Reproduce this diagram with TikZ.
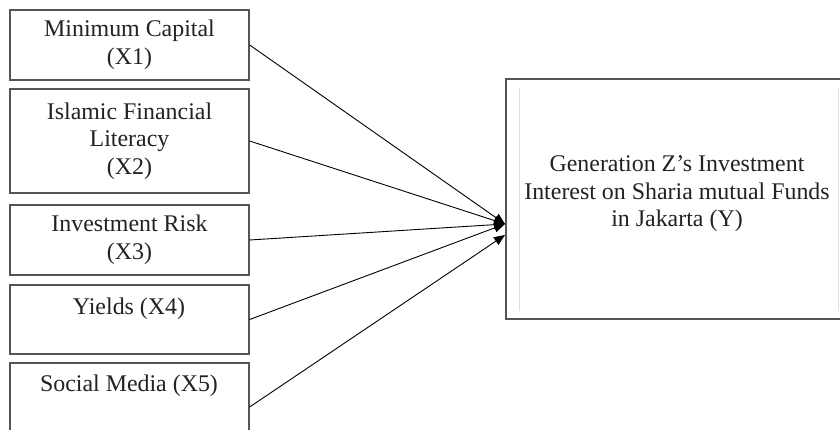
\documentclass[tikz,border=0pt]{standalone}
\usepackage{fontspec}
\setmainfont{Liberation Serif}
\usetikzlibrary{arrows.meta}
\definecolor{edge}{HTML}{555555}
\definecolor{ink}{HTML}{222222}
\definecolor{faint}{HTML}{DDDDDD}
\begin{document}
\begin{tikzpicture}[x=1pt,y=-1pt,
  txt/.style={text=ink, align=center, inner sep=0pt, font=\fontsize{23.9}{27.5}\selectfont},
  box/.style={txt, draw=edge, line width=1.3pt, fill=white, minimum width=239pt},
  conn/.style={draw=black, line width=0.9pt, -{Triangle[length=11pt,width=9pt]}}]
\clip (0,0) rectangle (840,430);
% left boxes
\node[box, minimum height=70pt]  (x1) at (129.5,45)  {Minimum Capital\\(X1)};
\node[box, minimum height=104pt] (x2) at (129.5,141) {Islamic Financial\\Literacy\\(X2)};
\node[box, minimum height=70pt]  (x3) at (129.5,240) {Investment Risk\\(X3)};
\node[box, minimum height=69pt]  (x4) at (129.5,319.5) {};
\node[txt] (l4) at (129,309) {Yields (X4)};
\node[box, minimum height=88pt]  (x5) at (129.5,407) {};
\node[txt] (l5) at (129,386) {Social Media (X5)};
% right box
\node[box, minimum width=339pt, minimum height=240pt] (y) at (675.5,199) {};
\draw[faint, line width=1pt] (519,88) -- (519,311);
\draw[faint, line width=1pt] (838,88) -- (838,311);
\node[txt] (ly) at (677,194) {Generation Z’s Investment\\Interest on Sharia mutual Funds\\in Jakarta (Y)};
% arrow tips
\coordinate (tip) at (505,224);
\coordinate (tip5) at (505,235);
\draw[conn] (x1.east) -- (tip);
\draw[conn] (x2.east) -- (tip);
\draw[conn] (x3.east) -- (tip);
\draw[conn] (x4.east) -- (tip);
\draw[conn] (x5.east) -- (tip5);
\end{tikzpicture}
\end{document}
